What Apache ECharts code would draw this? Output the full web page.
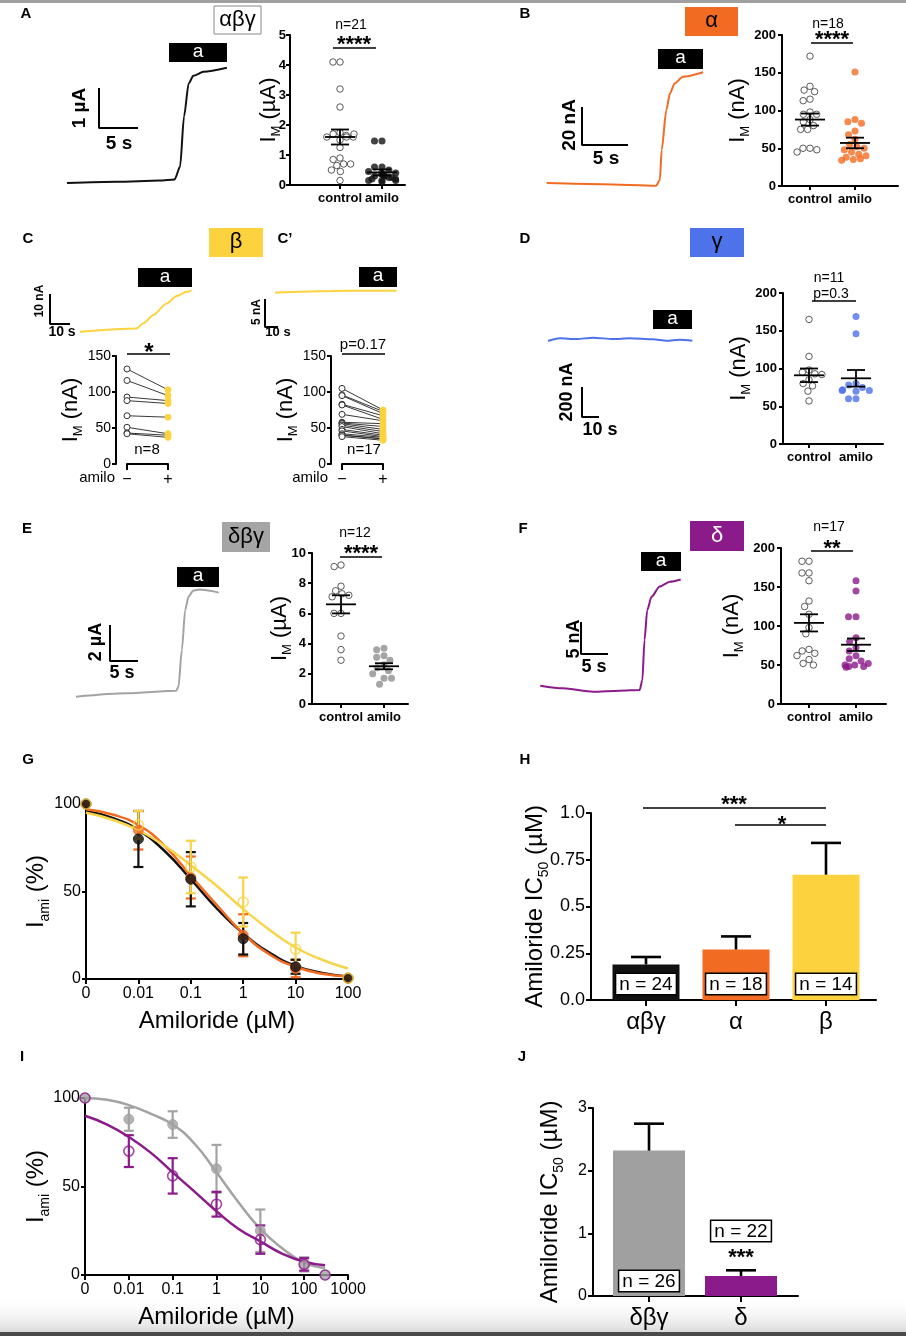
<!DOCTYPE html>
<html><head><meta charset="utf-8">
<script src="https://cdn.jsdelivr.net/npm/echarts@6/dist/echarts.min.js"></script>
<style>html,body{margin:0;padding:0;background:#fff}#c{width:906px;height:1336px;background:#fff}</style>
</head><body><div id="c"></div>
<script>
// ================= DATA =================
const groups = ['control', 'amilo'];
// A: αβγ (µA)
const aControl = [4.1, 4.1, 3.2, 2.6, 1.75, 1.7, 1.65, 1.6, 1.6, 1.6, 1.7, 1.5, 1.25, 0.9, 0.85, 0.7, 0.65, 0.7, 0.5, 0.45, 0.15];
const aAmilo = [1.47, 1.47, 0.6, 0.6, 0.5, 0.45, 0.4, 0.35, 0.3, 0.3, 0.3, 0.25, 0.25, 0.2, 0.2, 0.15, 0.15, 0.15, 0.1, 0.35, 0.4];
const aMean = [1.6, 0.42], aSem = [0.25, 0.1];
// B: α (nA)
const bControl = [172, 132, 127, 125, 115, 113, 98, 95, 95, 88, 85, 80, 75, 75, 50, 50, 48, 45];
const bAmilo = [151, 88, 85, 83, 73, 68, 62, 55, 52, 50, 48, 45, 42, 40, 38, 36, 35, 34];
const bMean = [88, 57], bSem = [8, 7];
// C / C': β paired (nA)
const cMinus = [132, 116, 93, 88, 67, 51, 43, 42];
const cPlus = [103, 95, 88, 84, 65, 42, 40, 37];
const c2Minus = [105, 96, 95, 83, 82, 69, 58, 57, 56, 54, 52, 48, 46, 42, 40, 40, 38];
const c2Plus = [75, 73, 70, 67, 62, 60, 56, 52, 48, 45, 42, 40, 38, 37, 35, 35, 33];
const pairedLabels = ['\u2212', '+'];
// D: γ (nA)
const dControl = [165, 116, 98, 95, 93, 92, 85, 80, 77, 70, 57];
const dAmilo = [169, 146, 80, 78, 75, 72, 71, 71, 70, 60, 60];
const dMean = [91, 87], dSem = [9, 11];
// E: δβγ (µA)
const eControl = [9.2, 9.1, 7.8, 7.5, 7.3, 7.2, 7.1, 6.0, 6.0, 4.5, 3.6, 2.9];
const eAmilo = [3.7, 3.6, 3.2, 3.1, 2.9, 2.6, 2.4, 2.2, 2.0, 1.7, 1.7, 1.3];
const eMean = [6.6, 2.5], eSem = [0.6, 0.2];
// F: δ (nA)
const fControl = [183, 183, 168, 168, 158, 132, 125, 115, 98, 90, 70, 68, 65, 62, 57, 52, 50];
const fAmilo = [158, 145, 112, 112, 85, 80, 72, 68, 62, 58, 55, 52, 50, 50, 48, 48, 47];
const fMean = [104, 76], fSem = [11, 8];
// current traces [time s, current]
const traceA = [[0,0],[6.4,0.03],[11.9,0.06],[13.8,0.09],[14.5,0.41],[15.0,1.66],[15.6,2.49],[16.2,2.68],[17.5,2.78],[20.5,2.88]];
const traceB = [[0,0],[6.1,-0.6],[11.9,-1.4],[12.3,1.6],[12.5,17.4],[13.0,38.4],[13.4,47.2],[13.9,52.4],[14.8,55.9],[17.0,58.3]];
const traceC = [[0,0],[28.3,1.1],[31.7,2.8],[36.7,5.6],[43.3,9.4],[48.3,11.9],[53.3,13.3],[55.8,13.7]];
const traceC2 = [[0,0],[19.2,0.18],[44.9,0.3],[70.5,0.36],[93.6,0.36]];
const traceD = [[0,0],[6.9,18],[16.7,13],[26.5,22],[38.2,13],[48.1,18],[61.8,11],[69.6,2],[77.5,9],[84.9,2]];
const traceE = [[0,0],[9.05,0.19],[17.9,0.33],[18.3,0.56],[18.9,2.59],[19.5,4.82],[20.1,5.56],[20.9,5.89],[22.1,5.96],[23.9,5.89],[25.5,5.78]];
const traceF = [[0,0],[4.2,-0.41],[9.76,-0.94],[14.7,-0.78],[18.4,-0.67],[18.9,0.89],[19.3,7.14],[19.8,11.8],[20.6,13.9],[22.1,15.5],[24.0,16.25],[26.0,16.6]];
// G: dose response αβγ / α / β (%)
const doseG = [0, 0.01, 0.1, 1, 10, 100];
const gAbgMean = [100, 80, 57, 23, 7, 0.5], gAbgSem = [0, 16, 15.5, 9, 4, 0];
const gAMean = [100, 85, 58, 25, 6, 0.5], gASem = [0, 11, 12, 12, 5, 0];
const gBMean = [100, 88, 64, 44, 17, 0.5], gBSem = [0, 8, 15, 14, 9.5, 0];
const fitConcG = [0.001, 0.0032, 0.01, 0.032, 0.1, 0.32, 1, 3.2, 10, 32, 100];
const fitAbg = [96, 92, 85, 73, 57, 40, 26, 15, 7.5, 3.5, 1.5];
const fitA = [97, 94, 88, 76, 59, 42, 26, 14, 7, 3, 1.5];
const fitB = [95, 91, 85, 76, 65, 53, 40, 28, 18, 11, 6];
// H: IC50 (µM)
const hCats = ['αβγ', 'α', 'β'];
const hMean = [0.19, 0.27, 0.67], hSem = [0.04, 0.07, 0.17], hN = [24, 18, 14];
// I: dose response δβγ / δ (%)
const doseI = [0, 0.01, 0.1, 1, 10, 100, 300];
const iDbgMean = [100, 88, 85, 60, 25, 6, 0], iDbgSem = [0, 6.5, 7.5, 13.5, 12, 4, 0];
const iDMean = [100, 70, 56, 40, 20, 6, 0], iDSem = [0, 9, 10, 7, 8, 3.5, 0];
const fitConcI = [0.001, 0.0032, 0.01, 0.032, 0.1, 0.32, 1, 3.2, 10, 32, 100, 300];
const fitDbg = [100, 99, 96, 91, 85, 74, 58, 41, 26, 15, 7, 4];
const fitD = [90, 85, 78, 69, 58, 47, 36, 26, 19, 12, 7.5, 5.5];
// J: IC50 (µM)
const jCats = ['δβγ', 'δ'];
const jMean = [2.32, 0.32], jSem = [0.43, 0.09], jN = [26, 22];

// ================= BUILD =================
const FONT = '"Liberation Sans", Arial, Helvetica, sans-serif';
const C = {black:'#111111', orange:'#F26B22', yellow:'#FCD33F', blue:'#4D72EA', gray:'#A3A3A3', grayDot:'#8F8F8F', purple:'#8B1A8A'};
const grid = [], xAxis = [], yAxis = [], series = [], graphic = [];

function addGrid(l, t, w, h) { grid.push({left:l, top:t, width:w, height:h}); return grid.length - 1; }
function T(x, y, text, size, o) {
  o = o || {};
  graphic.push({type:'text', x:x, y:y, rotation:o.rot || 0, z:100,
    style:{text:text, fontSize:size, fontWeight:o.bold ? 'bold' : 'normal', fontFamily:FONT, fill:o.color || '#000',
      align:o.align || 'center', verticalAlign:'middle', textAlign:o.align || 'center', textVerticalAlign:'middle'}});
}
function R(x, y, w, h, fill, stroke, z) {
  graphic.push({type:'rect', z:z === undefined ? 90 : z, shape:{x:x, y:y, width:w, height:h}, style:{fill:fill, stroke:stroke || null, lineWidth:stroke ? 1 : 0}});
}
function L(x1, y1, x2, y2, w) {
  graphic.push({type:'line', z:100, shape:{x1:x1, y1:y1, x2:x2, y2:y2}, style:{stroke:'#000', lineWidth:w || 1.5}});
}
function subName(main, sub, tail, size) {
  return {
    name:'{a|' + main + '}{b|' + sub + '}{a|' + tail + '}',
    nameMoveOverlap:false,
    nameTextStyle:{color:'#000', fontFamily:FONT, rich:{
      a:{fontSize:size, fontFamily:FONT, color:'#000', lineHeight:Math.round(size * 1.3)},
      b:{fontSize:Math.round(size * 0.6), fontFamily:FONT, color:'#000', verticalAlign:'bottom'}
    }}
  };
}
const axLine = {show:true, lineStyle:{color:'#000', width:2}};
const axTick = (len) => ({show:true, length:len, lineStyle:{color:'#000', width:2}});

function meanSemItem(halfMean, halfCap, lw) {
  return function (params, api) {
    const x = api.value(0), m = api.value(1), s = api.value(2);
    const c = api.coord([x, m]), hi = api.coord([x, m + s]), lo = api.coord([x, m - s]);
    const st = {stroke:'#000', lineWidth:lw};
    return {type:'group', children:[
      {type:'line', shape:{x1:c[0] - halfMean, y1:c[1], x2:c[0] + halfMean, y2:c[1]}, style:st},
      {type:'line', shape:{x1:c[0], y1:hi[1], x2:c[0], y2:lo[1]}, style:st},
      {type:'line', shape:{x1:c[0] - halfCap, y1:hi[1], x2:c[0] + halfCap, y2:hi[1]}, style:st},
      {type:'line', shape:{x1:c[0] - halfCap, y1:lo[1], x2:c[0] + halfCap, y2:lo[1]}, style:st}
    ]};
  };
}
function errItem(color, halfCap, lw, upOnly) {
  return function (params, api) {
    const x = api.value(0), m = api.value(1), s = api.value(2);
    if (!s) return {type:'group', children:[]};
    const c = api.coord([x, m]), hi = api.coord([x, m + s]), lo = api.coord([x, upOnly ? m : m - s]);
    const st = {stroke:color, lineWidth:lw};
    const ch = [
      {type:'line', shape:{x1:c[0], y1:hi[1], x2:c[0], y2:lo[1]}, style:st},
      {type:'line', shape:{x1:c[0] - halfCap, y1:hi[1], x2:c[0] + halfCap, y2:hi[1]}, style:st}
    ];
    if (!upOnly) ch.push({type:'line', shape:{x1:c[0] - halfCap, y1:lo[1], x2:c[0] + halfCap, y2:lo[1]}, style:st});
    return {type:'group', children:ch};
  };
}

// ---------- scatter (control vs amilo) ----------
function scatterPanel(p) {
  const h = p.bottom - p.top;
  const g1 = addGrid(p.ax, p.top, p.right - p.ax, h);
  xAxis.push({gridIndex:g1, type:'value', min:0, max:1, axisLine:axLine, axisTick:{show:false}, axisLabel:{show:false}, splitLine:{show:false}});
  yAxis.push(Object.assign({gridIndex:g1, type:'value', min:0, max:p.max, interval:p.interval, axisLine:axLine, axisTick:axTick(4),
    axisLabel:{fontSize:13, fontWeight:'bold', color:'#000', fontFamily:FONT, margin:p.labelMargin || 6}, splitLine:{show:false},
    nameLocation:'middle', nameRotate:90, nameGap:p.nameGap}, subName('I', 'M', ' (' + p.unit + ')', 22)));
  const sp = p.c2 - p.c1;
  const g2 = addGrid(p.c1 - sp / 2, p.top, sp * 2, h);
  const xi = xAxis.length;
  xAxis.push({gridIndex:g2, type:'category', data:groups, boundaryGap:true, jitter:28, jitterOverlap:false, jitterMargin:0.5,
    axisLine:{show:false}, axisTick:{show:true, alignWithLabel:true, interval:0, length:4, lineStyle:{color:'#000', width:2}},
    axisLabel:{interval:0, hideOverlap:false, fontSize:13, fontWeight:'bold', color:'#000', fontFamily:FONT, margin:7}});
  const yi = yAxis.length;
  yAxis.push({gridIndex:g2, type:'value', min:0, max:p.max, show:false});
  series.push({type:'scatter', xAxisIndex:xi, yAxisIndex:yi, data:p.ctrl.map(v => [0, v]), symbolSize:6.5,
    itemStyle:{color:'#fff', borderColor:'#333', borderWidth:1}, z:3});
  series.push({type:'scatter', xAxisIndex:xi, yAxisIndex:yi, data:p.ami.map(v => [1, v]), symbolSize:7,
    itemStyle:{color:p.color, borderColor:p.color, borderWidth:0}, z:3});
  series.push({type:'custom', xAxisIndex:xi, yAxisIndex:yi, data:p.mean.map((m, i) => [i, m, p.sem[i]]),
    renderItem:meanSemItem(15, 9, 1.8), z:6});
}

// ---------- current trace ----------
function tracePanel(p) {
  const l = p.x0 - 60, t = p.y0 - 150, w = 260, h = 200;
  const g = addGrid(l, t, w, h);
  xAxis.push({gridIndex:g, type:'value', min:(l - p.x0) / p.sx, max:(l + w - p.x0) / p.sx, show:false});
  yAxis.push({gridIndex:g, type:'value', min:(p.y0 - (t + h)) / p.sy, max:(p.y0 - t) / p.sy, show:false});
  const xi = xAxis.length - 1, yi = yAxis.length - 1;
  series.push({type:'line', xAxisIndex:xi, yAxisIndex:yi, data:p.data, showSymbol:false, clip:false, smooth:0.25, smoothMonotone:'x',
    lineStyle:{color:p.color, width:2}, z:4});
  const bt = (p.bar[0] - p.x0) / p.sx, bi = (p.y0 - p.bar[1]) / p.sy;
  series.push({type:'line', xAxisIndex:xi, yAxisIndex:yi, clip:false, showSymbol:false,
    data:[[bt, bi + p.scale[1]], [bt, bi], [bt + p.scale[0], bi]], lineStyle:{color:'#000', width:2}, z:4});
}

// ---------- paired ----------
function pairedPanel(p) {
  const g = addGrid(p.x1, p.top, p.x2 - p.x1, p.bottom - p.top);
  xAxis.push({gridIndex:g, type:'category', data:pairedLabels, boundaryGap:false, axisLine:axLine, axisTick:axTick(6),
    axisLabel:{interval:0, fontSize:16, color:'#000', fontFamily:FONT, margin:8}});
  yAxis.push(Object.assign({gridIndex:g, type:'value', min:0, max:150, interval:50, offset:p.x1 - p.ax, axisLine:axLine, axisTick:axTick(4),
    axisLabel:{fontSize:14, color:'#000', fontFamily:FONT, margin:5}, splitLine:{show:false},
    nameLocation:'middle', nameRotate:90, nameGap:p.nameGap}, subName('I', 'M', ' (nA)', 22)));
  const xi = xAxis.length - 1, yi = yAxis.length - 1;
  p.minus.forEach((m, i) => {
    series.push({type:'line', xAxisIndex:xi, yAxisIndex:yi, symbol:'circle', symbolSize:6, z:3,
      lineStyle:{color:'#222', width:0.9},
      data:[{value:[0, m], itemStyle:{color:'#fff', borderColor:'#333', borderWidth:1}},
            {value:[1, p.plus[i]], itemStyle:{color:C.yellow, borderColor:C.yellow, borderWidth:1}}]});
  });
}

// ---------- dose response ----------
function dosePanel(p) {
  const g = addGrid(p.ax, p.top, p.right - p.ax, p.bottom - p.top);
  xAxis.push({gridIndex:g, type:'log', logBase:10, min:0.001, max:p.max, splitNumber:p.decades, axisLine:axLine, axisTick:axTick(5),
    axisLabel:{fontSize:16, color:'#000', fontFamily:FONT, margin:7, formatter:v => v < 0.002 ? '0' : String(parseFloat(Number(v).toPrecision(6)))},
    splitLine:{show:false}, minorTick:{show:false}, name:'Amiloride (µM)', nameLocation:'middle', nameGap:30, nameMoveOverlap:false,
    nameTextStyle:{fontSize:24, color:'#000', fontFamily:FONT}});
  yAxis.push(Object.assign({gridIndex:g, type:'value', min:0, max:100, interval:50, axisLine:axLine, axisTick:axTick(4),
    axisLabel:{fontSize:16, color:'#000', fontFamily:FONT, margin:5}, splitLine:{show:false},
    nameLocation:'middle', nameRotate:90, nameGap:p.nameGap}, subName('I', 'ami', ' (%)', 24)));
  const xi = xAxis.length - 1, yi = yAxis.length - 1;
  const xOf = c => c === 0 ? 0.001 : c;
  p.fits.forEach(f => {
    series.push({type:'line', xAxisIndex:xi, yAxisIndex:yi, data:p.fitConc.map((c, i) => [c, f.vals[i]]), showSymbol:false,
      smooth:0.5, lineStyle:{color:f.color, width:2.5}, z:3, clip:false});
  });
  p.pts.forEach(s => {
    series.push({type:'custom', xAxisIndex:xi, yAxisIndex:yi, data:p.dose.map((c, i) => [xOf(c), s.mean[i], s.sem[i]]),
      renderItem:errItem(s.color, 5, 2.2, false), z:4, clip:false});
  });
  p.pts.forEach(s => {
    series.push({type:'scatter', xAxisIndex:xi, yAxisIndex:yi, data:p.dose.map((c, i) => [xOf(c), s.mean[i]]), symbolSize:10, z:5, clip:false,
      itemStyle:s.open ? {color:'rgba(255,255,255,0)', borderColor:s.color, borderWidth:1.6} : {color:s.color, borderColor:s.edge || s.color, borderWidth:1}});
  });
}

// ---------- IC50 bars ----------
function barPanel(p) {
  const h = p.bottom - p.top;
  const g1 = addGrid(p.ax, p.top, p.right - p.ax, h);
  xAxis.push({gridIndex:g1, type:'value', min:0, max:1, axisLine:axLine, axisTick:{show:false}, axisLabel:{show:false}, splitLine:{show:false}});
  yAxis.push(Object.assign({gridIndex:g1, type:'value', min:0, max:p.max, interval:p.interval, axisLine:axLine, axisTick:axTick(5),
    axisLabel:{fontSize:p.tickSize, color:'#000', fontFamily:FONT, margin:6, formatter:p.fmt}, splitLine:{show:false},
    nameLocation:'middle', nameRotate:90, nameGap:p.nameGap}, subName('Amiloride IC', '50', ' (µM)', 24)));
  const g2 = addGrid(p.nl, p.top, p.nw, h);
  xAxis.push({gridIndex:g2, type:'category', data:p.cats, boundaryGap:true, axisLine:{show:false},
    axisTick:{show:true, alignWithLabel:true, interval:0, length:6, lineStyle:{color:'#000', width:2}},
    axisLabel:{interval:0, fontSize:24, color:'#000', fontFamily:FONT, margin:10}});
  yAxis.push({gridIndex:g2, type:'value', min:0, max:p.max, show:false});
  const xi = xAxis.length - 1, yi = yAxis.length - 1;
  series.push({type:'bar', xAxisIndex:xi, yAxisIndex:yi, barWidth:p.barWidth, z:2,
    data:p.mean.map((m, i) => ({value:m, itemStyle:{color:p.colors[i]}, label:p.labels[i]}))});
  series.push({type:'custom', xAxisIndex:xi, yAxisIndex:yi, data:p.mean.map((m, i) => [i, m, p.sem[i]]),
    renderItem:errItem('#000', 15, 2.6, true), z:3});
}
const nBox = {fontSize:19, fontFamily:FONT, color:'#000', backgroundColor:'#fff', borderColor:'#000', borderWidth:1.5, padding:[1, 3, 0, 3]};

// ================= PANELS =================
scatterPanel({ax:290, right:405, top:35, bottom:185, c1:340, c2:382, max:5, interval:1, unit:'µA', nameGap:7, labelMargin:4,
  ctrl:aControl, ami:aAmilo, mean:aMean, sem:aSem, color:C.black});
scatterPanel({ax:782, right:898, top:35, bottom:186, c1:810, c2:855, max:200, interval:50, unit:'nA', nameGap:30,
  ctrl:bControl, ami:bAmilo, mean:bMean, sem:bSem, color:C.orange});
scatterPanel({ax:783, right:883, top:293, bottom:444, c1:809, c2:856, max:200, interval:50, unit:'nA', nameGap:30,
  ctrl:dControl, ami:dAmilo, mean:dMean, sem:dSem, color:C.blue});
scatterPanel({ax:312, right:408, top:553, bottom:704, c1:341, c2:384, max:10, interval:2, unit:'µA', nameGap:18,
  ctrl:eControl, ami:eAmilo, mean:eMean, sem:eSem, color:C.grayDot});
scatterPanel({ax:781, right:886, top:548, bottom:704, c1:809, c2:856, max:200, interval:50, unit:'nA', nameGap:35,
  ctrl:fControl, ami:fAmilo, mean:fMean, sem:fSem, color:C.purple});

tracePanel({x0:67, y0:183, sx:7.8, sy:40, data:traceA, color:C.black, bar:[99, 128], scale:[5, 1]});
tracePanel({x0:546.7, y0:183, sx:9.2, sy:1.9, data:traceB, color:C.orange, bar:[582, 145], scale:[5, 20]});
tracePanel({x0:80, y0:331.7, sx:2, sy:3, data:traceC, color:C.yellow, bar:[50, 324], scale:[10, 10]});
tracePanel({x0:275, y0:292.7, sx:1.3, sy:5.6, data:traceC2, color:C.yellow, bar:[265, 327], scale:[10, 5]});
tracePanel({x0:548, y0:341, sx:1.7, sy:0.15, data:traceD, color:C.blue, bar:[582, 417], scale:[10, 200]});
tracePanel({x0:76, y0:696.7, sx:5.6, sy:18, data:traceE, color:C.gray, bar:[110, 661], scale:[5, 2]});
tracePanel({x0:540.3, y0:685.7, sx:5.4, sy:6.4, data:traceF, color:C.purple, bar:[581, 654], scale:[5, 5]});

pairedPanel({ax:116, x1:127, x2:168, top:356, bottom:464, minus:cMinus, plus:cPlus, nameGap:31});
pairedPanel({ax:331, x1:342, x2:383, top:356, bottom:464, minus:c2Minus, plus:c2Plus, nameGap:31});

dosePanel({ax:86, right:348, top:804, bottom:979, max:100, decades:5, nameGap:34, dose:doseG, fitConc:fitConcG,
  fits:[{vals:fitAbg, color:C.black}, {vals:fitA, color:C.orange}, {vals:fitB, color:'#F8D44A'}],
  pts:[{mean:gAMean, sem:gASem, color:C.orange}, {mean:gAbgMean, sem:gAbgSem, color:C.black},
       {mean:gBMean, sem:gBSem, color:'#F8D44A', open:true}]});
dosePanel({ax:85, right:348, top:1098, bottom:1275, max:1000, decades:6, nameGap:33, dose:doseI, fitConc:fitConcI,
  fits:[{vals:fitDbg, color:C.gray}, {vals:fitD, color:C.purple}],
  pts:[{mean:iDbgMean, sem:iDbgSem, color:C.gray}, {mean:iDMean, sem:iDSem, color:C.purple, open:true}]});

barPanel({ax:591, right:876, top:813, bottom:1000, nl:601, nw:270, max:1, interval:0.25, tickSize:18, nameGap:40,
  fmt:v => v === 0 ? '0.0' : v === 1 ? '1.0' : String(v), cats:hCats, mean:hMean, sem:hSem, barWidth:67,
  colors:[C.black, C.orange, C.yellow],
  labels:hN.map(n => Object.assign({show:true, position:'insideBottom', distance:6, formatter:'n = ' + n}, nBox))});
barPanel({ax:593, right:798, top:1108, bottom:1296, nl:603, nw:184, max:3, interval:1, tickSize:16, nameGap:27,
  fmt:v => String(v), cats:jCats, mean:jMean, sem:jSem, barWidth:72, colors:['#A0A0A0', C.purple],
  labels:[Object.assign({show:true, position:'insideBottom', distance:5, formatter:'n = ' + jN[0]}, nBox),
    {show:true, position:'top', distance:8, formatter:'{box|n = ' + jN[1] + '}\n{s|***}',
     rich:{box:Object.assign({}, nBox, {lineHeight:22}), s:{fontSize:22, fontWeight:'bold', fontFamily:FONT, color:'#000', lineHeight:26, padding:[6, 0, 0, 0]}}}]});

// ================= ANNOTATIONS =================
// frame
R(0, 0, 906, 3, '#A0A0A0', null, -10);
graphic.push({type:'rect', z:-10, silent:true, shape:{x:0, y:1296, width:906, height:37},
  style:{fill:{type:'linear', x:0, y:0, x2:0, y2:1, colorStops:[{offset:0, color:'rgba(255,255,255,0)'}, {offset:1, color:'#d9d9d9'}]}}});
R(0, 1332, 906, 4, '#4a4a4a', null, -10);
// panel letters
[['A', 26, 14], ['B', 525, 14], ['C', 28, 239], ['C\u2019', 285, 239], ['D', 525, 239], ['E', 27, 529], ['F', 523, 529],
 ['G', 28, 760], ['H', 525, 760], ['I', 22, 1057], ['J', 522, 1057]].forEach(a => T(a[1], a[2], a[0], 15, {bold:true}));
// subunit boxes
R(214, 6, 47, 28, '#fff', '#888'); T(237.5, 20, 'αβγ', 22);
R(685, 7, 53, 29, C.orange); T(711.5, 21, 'α', 22);
R(209, 228, 54, 29, C.yellow); T(236, 242, 'β', 22);
R(690, 228, 54, 29, C.blue); T(717, 242, 'γ', 22);
R(222, 522, 48, 30, '#A5A5A5'); T(246, 537, 'δβγ', 22);
R(690, 521, 54, 30, C.purple); T(717, 536, 'δ', 22, {color:'#fff'});
// amiloride application bars
[[169, 43, 58, 19], [658, 49, 45, 20], [138, 268, 54, 19], [359, 267, 38, 20], [653, 310, 39, 19], [177, 567, 42, 20], [641, 552, 40, 19]]
  .forEach(b => { R(b[0], b[1], b[2], b[3], '#000'); T(b[0] + b[2] / 2, b[1] + b[3] / 2 - 1, 'a', 19, {color:'#fff'}); });
// scale bar labels
const ROT = Math.PI / 2;
T(80, 108, '1 µA', 19, {bold:true, rot:ROT}); T(119, 144, '5 s', 19, {bold:true});
T(570, 125, '20 nA', 19, {bold:true, rot:ROT}); T(606, 159, '5 s', 19, {bold:true});
T(40, 301, '10 nA', 12, {bold:true, rot:ROT}); T(62, 332, '10 s', 14, {bold:true});
T(257, 312, '5 nA', 12, {bold:true, rot:ROT}); T(278, 332, '10 s', 13, {bold:true});
T(567, 392, '200 nA', 18, {bold:true, rot:ROT}); T(600, 430, '10 s', 18, {bold:true});
T(96, 642, '2 µA', 18, {bold:true, rot:ROT}); T(122, 673, '5 s', 18, {bold:true});
T(574, 639, '5 nA', 18, {bold:true, rot:ROT}); T(594, 667, '5 s', 18, {bold:true});
// significance / n
T(351, 25, 'n=21', 14); T(354, 45, '****', 22, {bold:true}); L(333, 48, 376, 48);
T(828, 24, 'n=18', 14); T(832, 40, '****', 22, {bold:true}); L(811, 43, 853, 43);
T(829, 278, 'n=11', 14); T(831, 294, 'p=0.3', 14); L(812, 301, 856, 301);
T(355, 533, 'n=12', 14); T(361, 554, '****', 22, {bold:true}); L(340, 557, 382, 557);
T(829, 527, 'n=17', 14); T(832, 549, '**', 22, {bold:true}); L(811, 551, 853, 551);
T(149, 353, '*', 24, {bold:true}); L(127, 354, 170, 354);
T(363, 345, 'p=0.17', 15); L(342, 354, 385, 354);
T(147, 450, 'n=8', 15); T(364, 450, 'n=17', 15);
T(115, 478, 'amilo', 15, {align:'right'}); T(328, 478, 'amilo', 15, {align:'right'});
T(734, 805, '***', 22, {bold:true}); L(643, 808, 826, 808);
T(782, 825, '*', 22, {bold:true}); L(735, 825, 826, 825);

const chart = echarts.init(document.getElementById('c'), null, {renderer:'canvas', width:906, height:1336});
chart.setOption({animation:false, textStyle:{fontFamily:FONT},
  grid:grid, xAxis:xAxis, yAxis:yAxis, series:series, graphic:{elements:graphic}});
</script></body></html>
